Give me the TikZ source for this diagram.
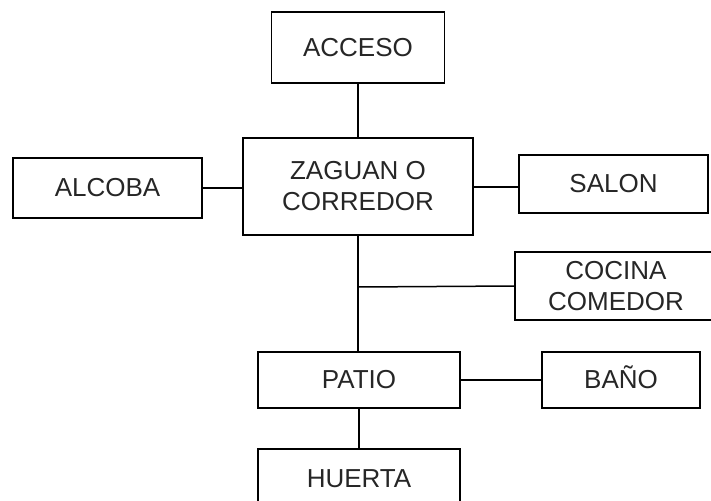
\documentclass[tikz,border=0pt]{standalone}
\usepackage{fontspec}
\setmainfont{Liberation Sans}
\begin{document}
\begin{tikzpicture}[x=1pt,y=-1pt,
  roombox/.style={draw, line width=1.5pt, rectangle, inner sep=0pt, align=center,
    font=\fontsize{26}{31}\selectfont, text=black!85},
  link/.style={line width=1.5pt}]
\useasboundingbox (0,0) rectangle (711,500);
\node[roombox, minimum width=173pt, minimum height=71pt] (acc) at (358,47.5) {ACCESO};
\node[roombox, minimum width=230pt, minimum height=97pt] (zag) at (358,186.5) {ZAGUAN O\\CORREDOR};
\node[roombox, minimum width=189pt, minimum height=60pt] (alc) at (107.5,188) {ALCOBA};
\node[roombox, minimum width=189pt, minimum height=58pt] (sal) at (613.5,184) {SALON};
\node[roombox, minimum width=202pt, minimum height=68pt] (coc) at (616,286) {COCINA\\COMEDOR};
\node[roombox, minimum width=202pt, minimum height=56pt] (pat) at (359,380) {PATIO};
\node[roombox, minimum width=158pt, minimum height=56pt] (ban) at (621,380) {\vphantom{A}\smash{BAÑO}};
\node[roombox, minimum width=202pt, minimum height=58pt, anchor=north] (hue) at (359,448) {\raisebox{-3pt}{HUERTA}\vphantom{Ag}};
\coordinate (j) at (358,287);
\draw[link] (acc.south) -- (acc.south |- zag.north);
\draw[link] (alc.east) -- (alc.east -| zag.west);
\draw[link] (sal.west |- 0,187) -- (zag.east |- 0,187);
\draw[link] (358,235) -- (358,352);
\draw[link] (j) -- (coc.west);
\draw[link] (pat.east) -- (ban.west);
\draw[link] (pat.south) -- (hue.north);
\end{tikzpicture}
\end{document}
